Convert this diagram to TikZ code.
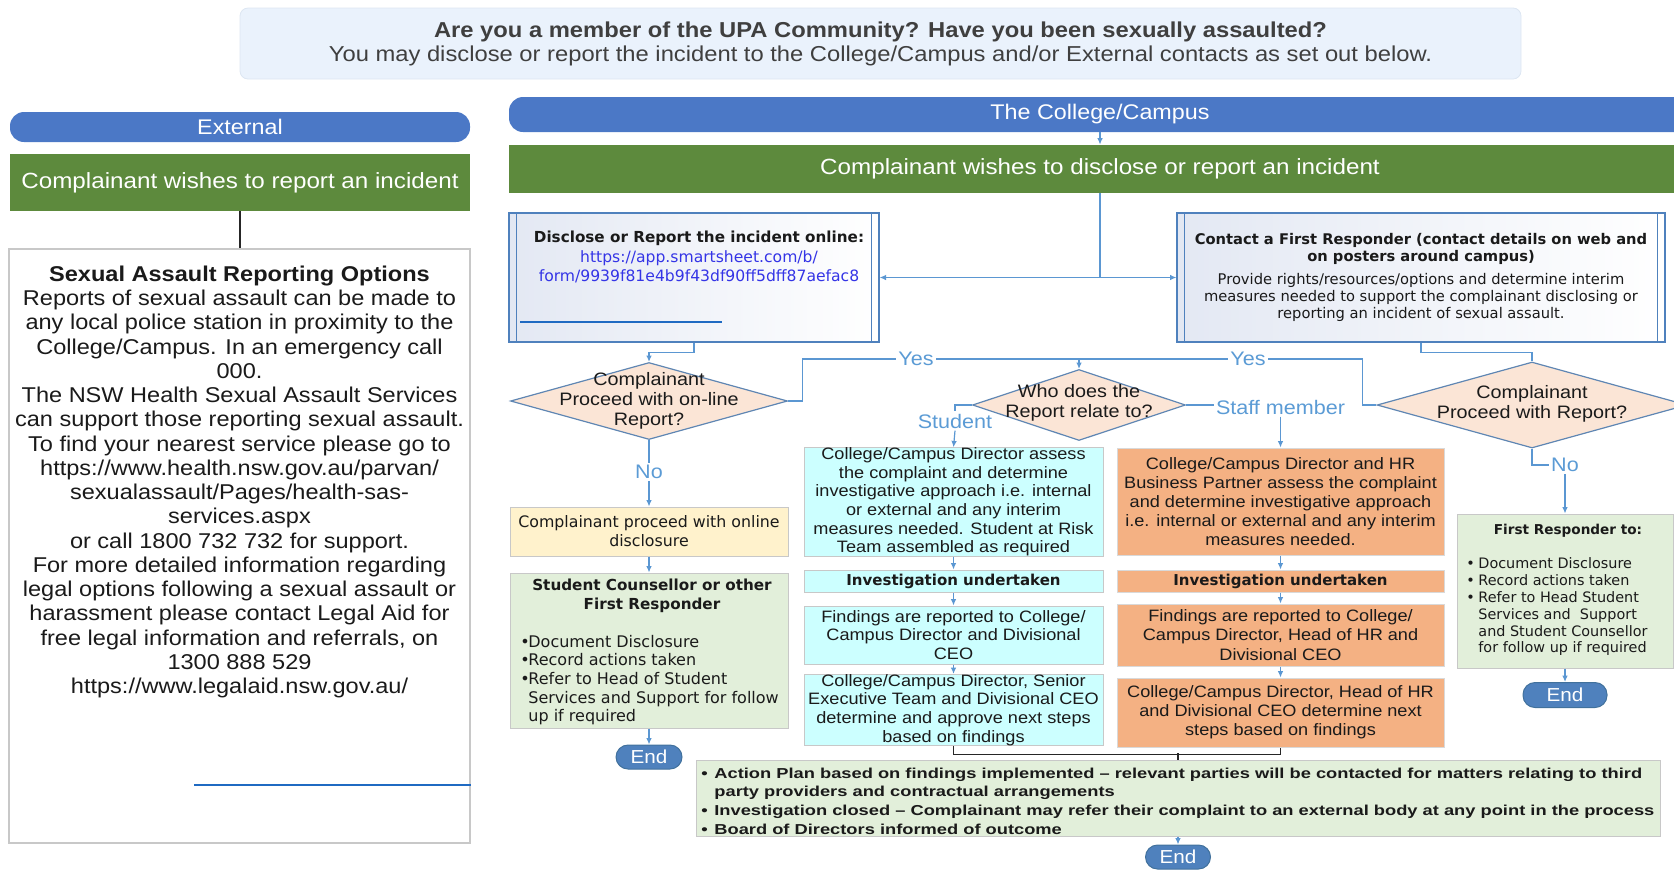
\documentclass[tikz,border=0pt]{standalone}
\usepackage{fontspec}
\setmainfont{Liberation Sans}[FakeStretch=1.1]
\newfontfamily\dejavu{DejaVu Sans}
\newfontfamily\widearial{Liberation Sans}[FakeStretch=1.27]
\usepackage{xcolor}
\usetikzlibrary{positioning, shapes.geometric, arrows.meta}
\definecolor{bannerfill}{HTML}{EAF2FC}
\definecolor{bannerline}{HTML}{DCE6F2}
\definecolor{bannertext}{HTML}{3F3F3F}
\definecolor{headblue}{HTML}{4B78C6}
\definecolor{headgreen}{HTML}{5D8A3D}
\definecolor{connblue}{HTML}{5B97D2}
\definecolor{labelblue}{HTML}{5B9BD5}
\definecolor{boxblue}{HTML}{4F81BD}
\definecolor{gradblue}{HTML}{E3E8F3}
\definecolor{urlblue}{HTML}{3434E6}
\definecolor{underblue}{HTML}{1F6AC2}
\definecolor{peach}{HTML}{FBE5D6}
\definecolor{diamline}{HTML}{5F86B3}
\definecolor{cyanfill}{HTML}{CCFFFF}
\definecolor{orangefill}{HTML}{F4B183}
\definecolor{yellowfill}{HTML}{FFF2CC}
\definecolor{greenfill}{HTML}{E2EFDA}
\definecolor{greyline}{HTML}{C8C8C8}
\definecolor{endblue}{HTML}{4F81BD}
\definecolor{endline}{HTML}{41719C}
\definecolor{inktext}{HTML}{1A1A1A}

\begin{document}
\begin{tikzpicture}[x=0.5pt, y=-0.5pt,
    every node/.style={text=inktext},
    conn/.style={draw=connblue, line width=0.6pt},
    arr/.style={conn, -{Latex[length=3.2pt,width=2.8pt]}},
    link/.style={draw=black!85, line width=0.6pt},
    banner/.style={fill=bannerfill, draw=bannerline, rounded corners=4pt, minimum width=640.5pt, minimum height=35.5pt, align=center, text=bannertext, font=\fontsize{10.8}{12}\selectfont},
    pill/.style={fill=headblue, rounded corners=7pt, inner sep=0pt, text=white, font=\fontsize{10.6}{12}\selectfont},
    bar/.style={fill=headgreen, inner sep=0pt, text=white, font=\fontsize{11}{13}\selectfont},
    plainbox/.style={draw=greyline, line width=0.6pt, fill=white, inner sep=0pt},
    process/.style={draw=boxblue, line width=0.6pt, left color=gradblue, right color=white, inner sep=0pt},
    decision/.style={diamond, draw=diamline, line width=0.6pt, fill=peach, inner sep=0pt},
    decisiontext/.style={align=center, font=\fontsize{9}{10}\selectfont},
    choice/.style={text=labelblue, inner sep=1pt, font=\fontsize{9.8}{11}\selectfont},
    studentbox/.style={draw=greyline, line width=0.5pt, fill=cyanfill, inner sep=0pt, minimum width=149.5pt, align=center, font=\fontsize{8.25}{9.3}\selectfont},
    staffbox/.style={draw=greyline!70, line width=0.5pt, fill=orangefill, inner sep=0pt, minimum width=163.5pt, align=center, font=\fontsize{8.25}{9.6}\selectfont},
    heading/.style={font=\dejavu\fontsize{7.5}{9}\selectfont\bfseries},
    notebox/.style={draw=greyline, line width=0.5pt, inner sep=0pt},
    endcap/.style={fill=endblue, draw=endline, line width=0.5pt, rounded corners=6pt, inner sep=0pt, text=white, font=\fontsize{9.4}{10}\selectfont}]
      \useasboundingbox (0,0) rectangle (1674,869);
      \clip (0,0) rectangle (1674,869);
      \node[banner] (banner) at (880.5,43.5) {\textbf{Are you a member of the UPA Community? Have you been sexually assaulted?}\\You may disclose or report the incident to the College/Campus and/or External contacts as set out below.};
      \node[pill, minimum width=230pt, minimum height=15pt] (external) at (240,127) {External};
      \node[bar, minimum width=230pt, minimum height=28.5pt] (extwish) at (240,182.5) {Complainant wishes to report an incident};
      \node[plainbox, minimum width=230.5pt, minimum height=297pt] (extbox) at (239.5,546) {};
      \node[align=center, font=\fontsize{10.7}{12.12}\selectfont] (extinfo) at (239.5,482) {\textbf{Sexual Assault Reporting Options}\\
        Reports of sexual assault can be made to\\
        any local police station in proximity to the\\
        College/Campus. In an emergency call\\
        000.\\
        The NSW Health Sexual Assault Services\\
        can support those reporting sexual assault.\\
        To find your nearest service please go to\\
        https://www.health.nsw.gov.au/parvan/\\
        sexualassault/Pages/health-sas-\\
        services.aspx\\
        or call 1800 732 732 for support.\\
        For more detailed information regarding\\
        legal options following a sexual assault or\\
        harassment please contact Legal Aid for\\
        free legal information and referrals, on\\
        1300 888 529\\
        https://www.legalaid.nsw.gov.au/};
      \draw[underblue, line width=1.3pt] (194,785) -- (extbox.east |- 0,785);
      \node[pill, minimum width=591pt, minimum height=17.5pt] (college) at (1100,114.5) {The College/Campus};
      \node[bar, minimum width=591pt, minimum height=24pt] (colwish) at (1100,169) {Complainant wishes to disclose or report an incident};
      \node[process, minimum width=185pt, minimum height=64.5pt] (online) at (694,277.5) {};
      \draw[boxblue, line width=0.6pt] ([xshift=4pt]online.north west) -- ([xshift=4pt]online.south west);
      \draw[boxblue, line width=0.6pt] ([xshift=-4pt]online.north east) -- ([xshift=-4pt]online.south east);
      \node[align=center, font=\dejavu\fontsize{7.8}{9.7}\selectfont] (onlinetext) at (699,257) {{\bfseries\fontsize{7.6}{9.7}\selectfont Disclose or Report the incident online:}\\
        \textcolor{urlblue}{https://app.smartsheet.com/b/}\\
        \textcolor{urlblue}{form/9939f81e4b9f43df90ff5dff87aefac8}};
      \draw[underblue, line width=1.3pt] (520,322) -- (722,322);
      \node[process, minimum width=244pt, minimum height=64.5pt, align=center, font=\dejavu\fontsize{7.35}{8.6}\selectfont] (responder) at (1421,277.5) {\textbf{Contact a First Responder (contact details on web and}\\
        \textbf{on posters around campus)}\\[2.8pt]
        Provide rights/resources/options and determine interim\\
        measures needed to support the complainant disclosing or\\
        reporting an incident of sexual assault.};
      \draw[boxblue, line width=0.6pt] ([xshift=4pt]responder.north west) -- ([xshift=4pt]responder.south west);
      \draw[boxblue, line width=0.6pt] ([xshift=-4pt]responder.north east) -- ([xshift=-4pt]responder.south east);
      \node[decision, minimum width=138.5pt, minimum height=38.5pt] (onlineq) at (649,401) {};
      \node[decisiontext] (onlineqtext) at (649,401) {Complainant\\Proceed with on-line\\Report?};
      \node[decision, minimum width=106.5pt, minimum height=35.5pt] (relate) at (1079,405) {};
      \node[decisiontext] (relatetext) at (1079,403) {Who does the\\Report relate to?};
      \node[decision, minimum width=155pt, minimum height=43pt] (proceed) at (1532,405) {};
      \node[decisiontext] (proceedtext) at (1532,404) {Complainant\\Proceed with Report?};
      \node[choice] (student) at (955,421) {Student};
      \node[choice] (staff) at (1280.5,407) {Staff member};
      \node[choice] (noleft) at (649,472) {No};
      \node[choice] (noright) at (1565,465) {No};
      \node[notebox, fill=yellowfill, minimum width=139pt, minimum height=24.5pt, align=center, font=\dejavu\fontsize{7.9}{9.5}\selectfont] (yellow) at (649,531.5) {Complainant proceed with online\\disclosure};
      \node[notebox, fill=greenfill, minimum width=139pt, minimum height=77.5pt] (couns) at (649,650.5) {};
      \node[align=center, font=\dejavu\fontsize{7.6}{9.5}\selectfont\bfseries] (counstitle) at (652,595.5) {Student Counsellor or other\\First Responder};
      \node[anchor=west, align=left, inner sep=0pt, font=\dejavu\fontsize{8}{9.35}\selectfont] (counslist) at (520,680) {\makebox[4pt][l]{\textbullet}Document Disclosure\\
        \makebox[4pt][l]{\textbullet}Record actions taken\\
        \makebox[4pt][l]{\textbullet}Refer to Head of Student\\
        \hspace*{4pt}Services and Support for follow\\
        \hspace*{4pt}up if required};
      \node[endcap, minimum width=33pt, minimum height=12pt] (end1) at (649,757) {End};
      \node[studentbox, minimum height=54pt] (stud1) at (953.5,502) {College/Campus Director assess\\the complaint and determine\\investigative approach i.e. internal\\or external and any interim\\measures needed. Student at Risk\\Team assembled as required};
      \node[studentbox, minimum height=11pt, heading] (stud2) at (953.5,581) {Investigation undertaken};
      \node[studentbox, minimum height=29pt] (stud3) at (953.5,635) {Findings are reported to College/\\Campus Director and Divisional\\CEO};
      \node[studentbox, minimum height=35pt] (stud4) at (953.5,710) {College/Campus Director, Senior\\Executive Team and Divisional CEO\\determine and approve next steps\\based on findings};
      \node[staffbox, minimum height=53.5pt] (staff1) at (1280.5,501.5) {College/Campus Director and HR\\Business Partner assess the complaint\\and determine investigative approach\\i.e. internal or external and any interim\\measures needed.};
      \node[staffbox, minimum height=11pt, heading] (staff2) at (1280.5,581) {Investigation undertaken};
      \node[staffbox, minimum height=31pt] (staff3) at (1280.5,635) {Findings are reported to College/\\Campus Director, Head of HR and\\Divisional CEO};
      \node[staffbox, minimum height=34.5pt] (staff4) at (1280.5,712.5) {College/Campus Director, Head of HR\\and Divisional CEO determine next\\steps based on findings};
      \node[notebox, fill=greenfill, minimum width=108pt, minimum height=77pt] (firstresp) at (1565,591) {};
      \node[font=\dejavu\fontsize{6.8}{8}\selectfont\bfseries] (frtitle) at (1568,531) {First Responder to:};
      \node[anchor=west, align=left, inner sep=0pt, font=\dejavu\fontsize{7.2}{8.4}\selectfont] (frlist) at (1466,607) {\makebox[6pt][l]{\textbullet}Document Disclosure\\
        \makebox[6pt][l]{\textbullet}Record actions taken\\
        \makebox[6pt][l]{\textbullet}Refer to Head Student\\
        \hspace*{6pt}Services and\ \ Support\\
        \hspace*{6pt}and Student Counsellor\\
        \hspace*{6pt}for follow up if required};
      \node[endcap, minimum width=42pt, minimum height=12.5pt] (end2) at (1565,695) {End};
      \node[notebox, fill=greenfill, minimum width=482pt, minimum height=38pt] (plan) at (1178,798) {};
      \node[anchor=west, align=left, inner sep=0pt, font=\widearial\fontsize{7.2}{9.3}\selectfont\bfseries] (plantext) at (701,801) {\makebox[6.5pt][l]{\textbullet}Action Plan based on findings implemented – relevant parties will be contacted for matters relating to third\\
        \hspace*{6.5pt}party providers and contractual arrangements\\
        \makebox[6.5pt][l]{\textbullet}Investigation closed – Complainant may refer their complaint to an external body at any point in the process\\
        \makebox[6.5pt][l]{\textbullet}Board of Directors informed of outcome};
      \node[endcap, minimum width=32.5pt, minimum height=12pt] (end3) at (1178,857) {End};
      \draw[link] (extwish.south) -- (extwish.south |- extbox.north);
      \draw[arr] (college) -- (colwish);
      \draw[conn] (colwish.south) -- (colwish.south |- online.east) coordinate (split);
      \draw[arr] (split) -- (online.east);
      \draw[arr] (split) -- (responder.west);
      \draw[arr] (online.south) -- ++(0,10) -| (onlineq.north);
      \draw[conn] (responder.south) -- ++(0,10) -| (proceed.north);
      \draw[conn] (onlineq.east) -- ++(14,0) |- (1079,359) coordinate (yesjoin);
      \draw[conn] (proceed.west) -- ++(-14,0) |- (yesjoin);
      \draw[arr] (yesjoin) -- (relate.north);
      \draw[conn] (relate.west) -| (student.north);
      \draw[arr] (student.south) -- (stud1.north);
      \draw[conn] (relate.east) -- (relate.east -| staff.west);
      \draw[arr] (staff.south) -- (staff1.north);
      \draw[conn] (onlineq.south) -- (noleft.north);
      \draw[arr] (noleft.south) -- (yellow.north);
      \draw[arr] (yellow) -- (couns);
      \draw[arr] (couns) -- (end1);
      \draw[conn] (proceed.south) |- (noright.west);
      \draw[arr] (noright.south) -- (firstresp.north);
      \draw[arr] (firstresp) -- (end2);
      \draw[arr] (stud1) -- (stud2);
      \draw[arr] (stud2) -- (stud3);
      \draw[arr] (stud3) -- (stud4);
      \draw[arr] (staff1) -- (staff2);
      \draw[arr] (staff2) -- (staff3);
      \draw[arr] (staff3) -- (staff4);
      \draw[link] (stud4.south) -- ++(0,8) -| (staff4.south);
      \draw[link] (plan.north) -- ++(0,-7);
      \draw[arr] (plan) -- (end3);
      \node[choice, fill=white] (yesleft) at (916,359) {Yes};
      \node[choice, fill=white] (yesright) at (1248,359) {Yes};
    \end{tikzpicture}
\end{document}
